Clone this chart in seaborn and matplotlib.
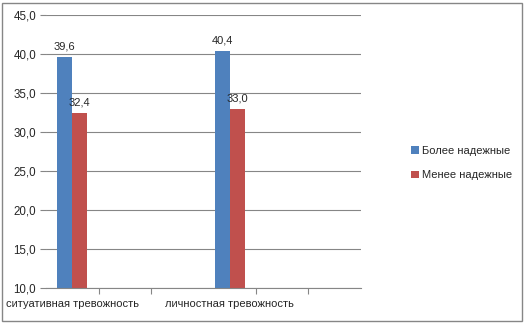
import matplotlib
matplotlib.use("Agg")
import matplotlib.pyplot as plt
import seaborn as sns
import pandas as pd
from matplotlib.patches import Rectangle

categories = ["c1", "c2", "c3", "c4", "c5", "c6"]
cat_labels = ["ситуативная тревожность", "", "", "личностная тревожность", "", ""]
series = ["Более надежные", "Менее надежные"]
values_more = [39.6, None, None, 40.4, None, None]
values_less = [32.4, None, None, 33.0, None, None]
colors = ["#4F81BD", "#C0504D"]
yticks = [10, 15, 20, 25, 30, 35, 40, 45]
boundary_ticks = [0.5, 1.5, 3.5, 4.5]

rows = []
for c, a, b in zip(categories, values_more, values_less):
    if a is not None:
        rows.append({"cat": c, "series": series[0], "value": a})
    if b is not None:
        rows.append({"cat": c, "series": series[1], "value": b})
df = pd.DataFrame(rows)

sns.set_style("white")
plt.rcParams['font.family'] = ['Liberation Sans', 'DejaVu Sans']

fig = plt.figure(figsize=(5.26, 3.23), dpi=100)
ax = fig.add_axes([46/526, 1-288/323, (361-46)/526, (288-15)/323])

sns.barplot(data=df, x="cat", y="value", hue="series", order=categories,
            hue_order=series, palette=colors, width=0.57, ax=ax,
            saturation=1, errorbar=None, legend=True, linewidth=0)

fs = 8
ax.set_ylim(10, 45)
ax.set_xlim(-0.5, len(categories) - 0.5)
ax.set_yticks(yticks)
ax.set_yticklabels([f"{v:.1f}".replace(".", ",") for v in yticks], fontsize=fs + 0.3)
ax.yaxis.grid(True, color="#868686", linewidth=0.8)
ax.set_axisbelow(True)
ax.set_xticks(range(len(categories)))
ax.set_xticklabels(cat_labels, fontsize=fs)
ax.set_xticks(boundary_ticks, minor=True)
ax.tick_params(axis="x", which="major", length=0, pad=8, bottom=True)
ax.tick_params(axis="x", which="minor", length=4, width=0.8, color="#868686",
               direction="out", bottom=True)
ax.tick_params(axis="y", length=4, width=0.8, color="#868686", direction="out",
               pad=3, left=True)
ax.set_xlabel("")
ax.set_ylabel("")
for s in ["top", "right", "left"]:
    ax.spines[s].set_visible(False)
ax.spines["bottom"].set_color("#868686")
ax.spines["bottom"].set_linewidth(0.8)

for cont in ax.containers:
    labels = [f"{v:.1f}".replace(".", ",") if v == v else "" for v in cont.datavalues]
    ax.bar_label(cont, labels=labels, fontsize=fs, padding=4)

handles, labs = ax.get_legend_handles_labels()
ax.legend(handles, labs, loc="center left", bbox_to_anchor=(401/526, 0.495),
          bbox_transform=fig.transFigure, frameon=False, fontsize=fs,
          handlelength=0.7, handleheight=0.7, handletextpad=0.3, labelspacing=1.3)

fig.patches.append(Rectangle((2/526, 2/323), 520/526, 318/323, transform=fig.transFigure,
                             fill=False, edgecolor="#868686", linewidth=1))

fig.savefig("out.png", dpi=100)
